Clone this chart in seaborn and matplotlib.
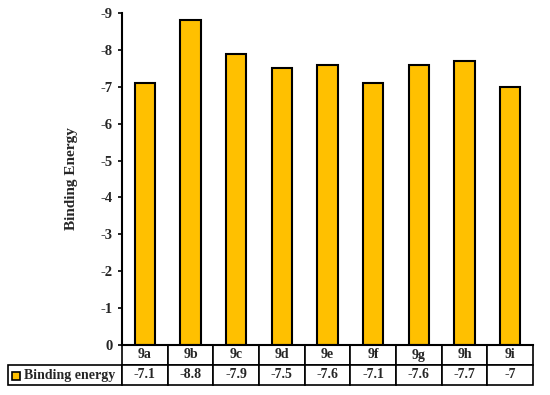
import matplotlib
matplotlib.use("Agg")
import matplotlib.pyplot as plt
import seaborn as sns
import pandas as pd
from matplotlib.patches import Rectangle

compounds = ["9a", "9b", "9c", "9d", "9e", "9f", "9g", "9h", "9i"]
binding_energy = [-7.1, -8.8, -7.9, -7.5, -7.6, -7.1, -7.6, -7.7, -7]
energy_labels = ["-7.1", "-8.8", "-7.9", "-7.5", "-7.6", "-7.1", "-7.6", "-7.7", "-7"]
y_ticks = [0, -1, -2, -3, -4, -5, -6, -7, -8, -9]

bar_color = "#FFC000"

sns.set_style("white")
plt.rcParams["font.family"] = ["Liberation Serif", "DejaVu Serif"]
plt.rcParams["font.weight"] = "bold"

df = pd.DataFrame({"compound": compounds, "energy": binding_energy})

fig = plt.figure(figsize=(5.5, 3.95), dpi=100)
ax = fig.add_axes([122 / 550, 1 - 345 / 395, 411 / 550, 332 / 395])

sns.barplot(data=df, x="compound", y="energy", color=bar_color, width=0.44,
            edgecolor="black", linewidth=1.5, saturation=1, ax=ax)

ax.set_ylim(0, -9)
ax.set_xlim(-0.5, len(compounds) - 0.5)
ax.set_yticks(y_ticks)
ax.set_yticklabels([str(t) for t in y_ticks], fontsize=10.5, fontweight="bold")
ax.tick_params(axis="y", left=True, direction="out", length=3, width=1.2,
               color="black", pad=4)
ax.set_xticks([])
ax.set_xlabel("")
ax.set_ylabel("Binding Energy", fontsize=11, fontweight="bold", labelpad=16)
for side in ["top", "right"]:
    ax.spines[side].set_visible(False)
for side in ["left", "bottom"]:
    ax.spines[side].set_color("black")
    ax.spines[side].set_linewidth(1.5)

# data table under the axis
ax_w = 411.0
ax_h = 332.0
left_px = 8.0
label_w = 122.0 - left_px
col_w = ax_w / len(compounds)
cell_text = [[""] + compounds, ["    Binding energy"] + energy_labels]
tbl = ax.table(cellText=cell_text,
               colWidths=[label_w / ax_w] + [col_w / ax_w] * len(compounds),
               cellLoc="center",
               bbox=[-label_w / ax_w, -40 / ax_h, (label_w + ax_w) / ax_w, 40 / ax_h])
tbl.auto_set_font_size(False)
for (r, c), cell in tbl.get_celld().items():
    cell.set_linewidth(1.2)
    cell.set_edgecolor("black")
    cell.get_text().set_fontsize(10)
    cell.get_text().set_fontweight("bold")
    if r == 0 and c == 0:
        cell.visible_edges = ""
    if c == 0 and r == 1:
        cell.get_text().set_ha("left")
        cell._loc = "left"
        cell.PAD = 0.02

# legend key inside the row label
fig.patches.append(Rectangle((12 / 550, 1 - 380 / 395), 8 / 550, 8 / 395,
                             transform=fig.transFigure, facecolor=bar_color,
                             edgecolor="black", linewidth=1.2))

fig.savefig("out.png", dpi=100)
